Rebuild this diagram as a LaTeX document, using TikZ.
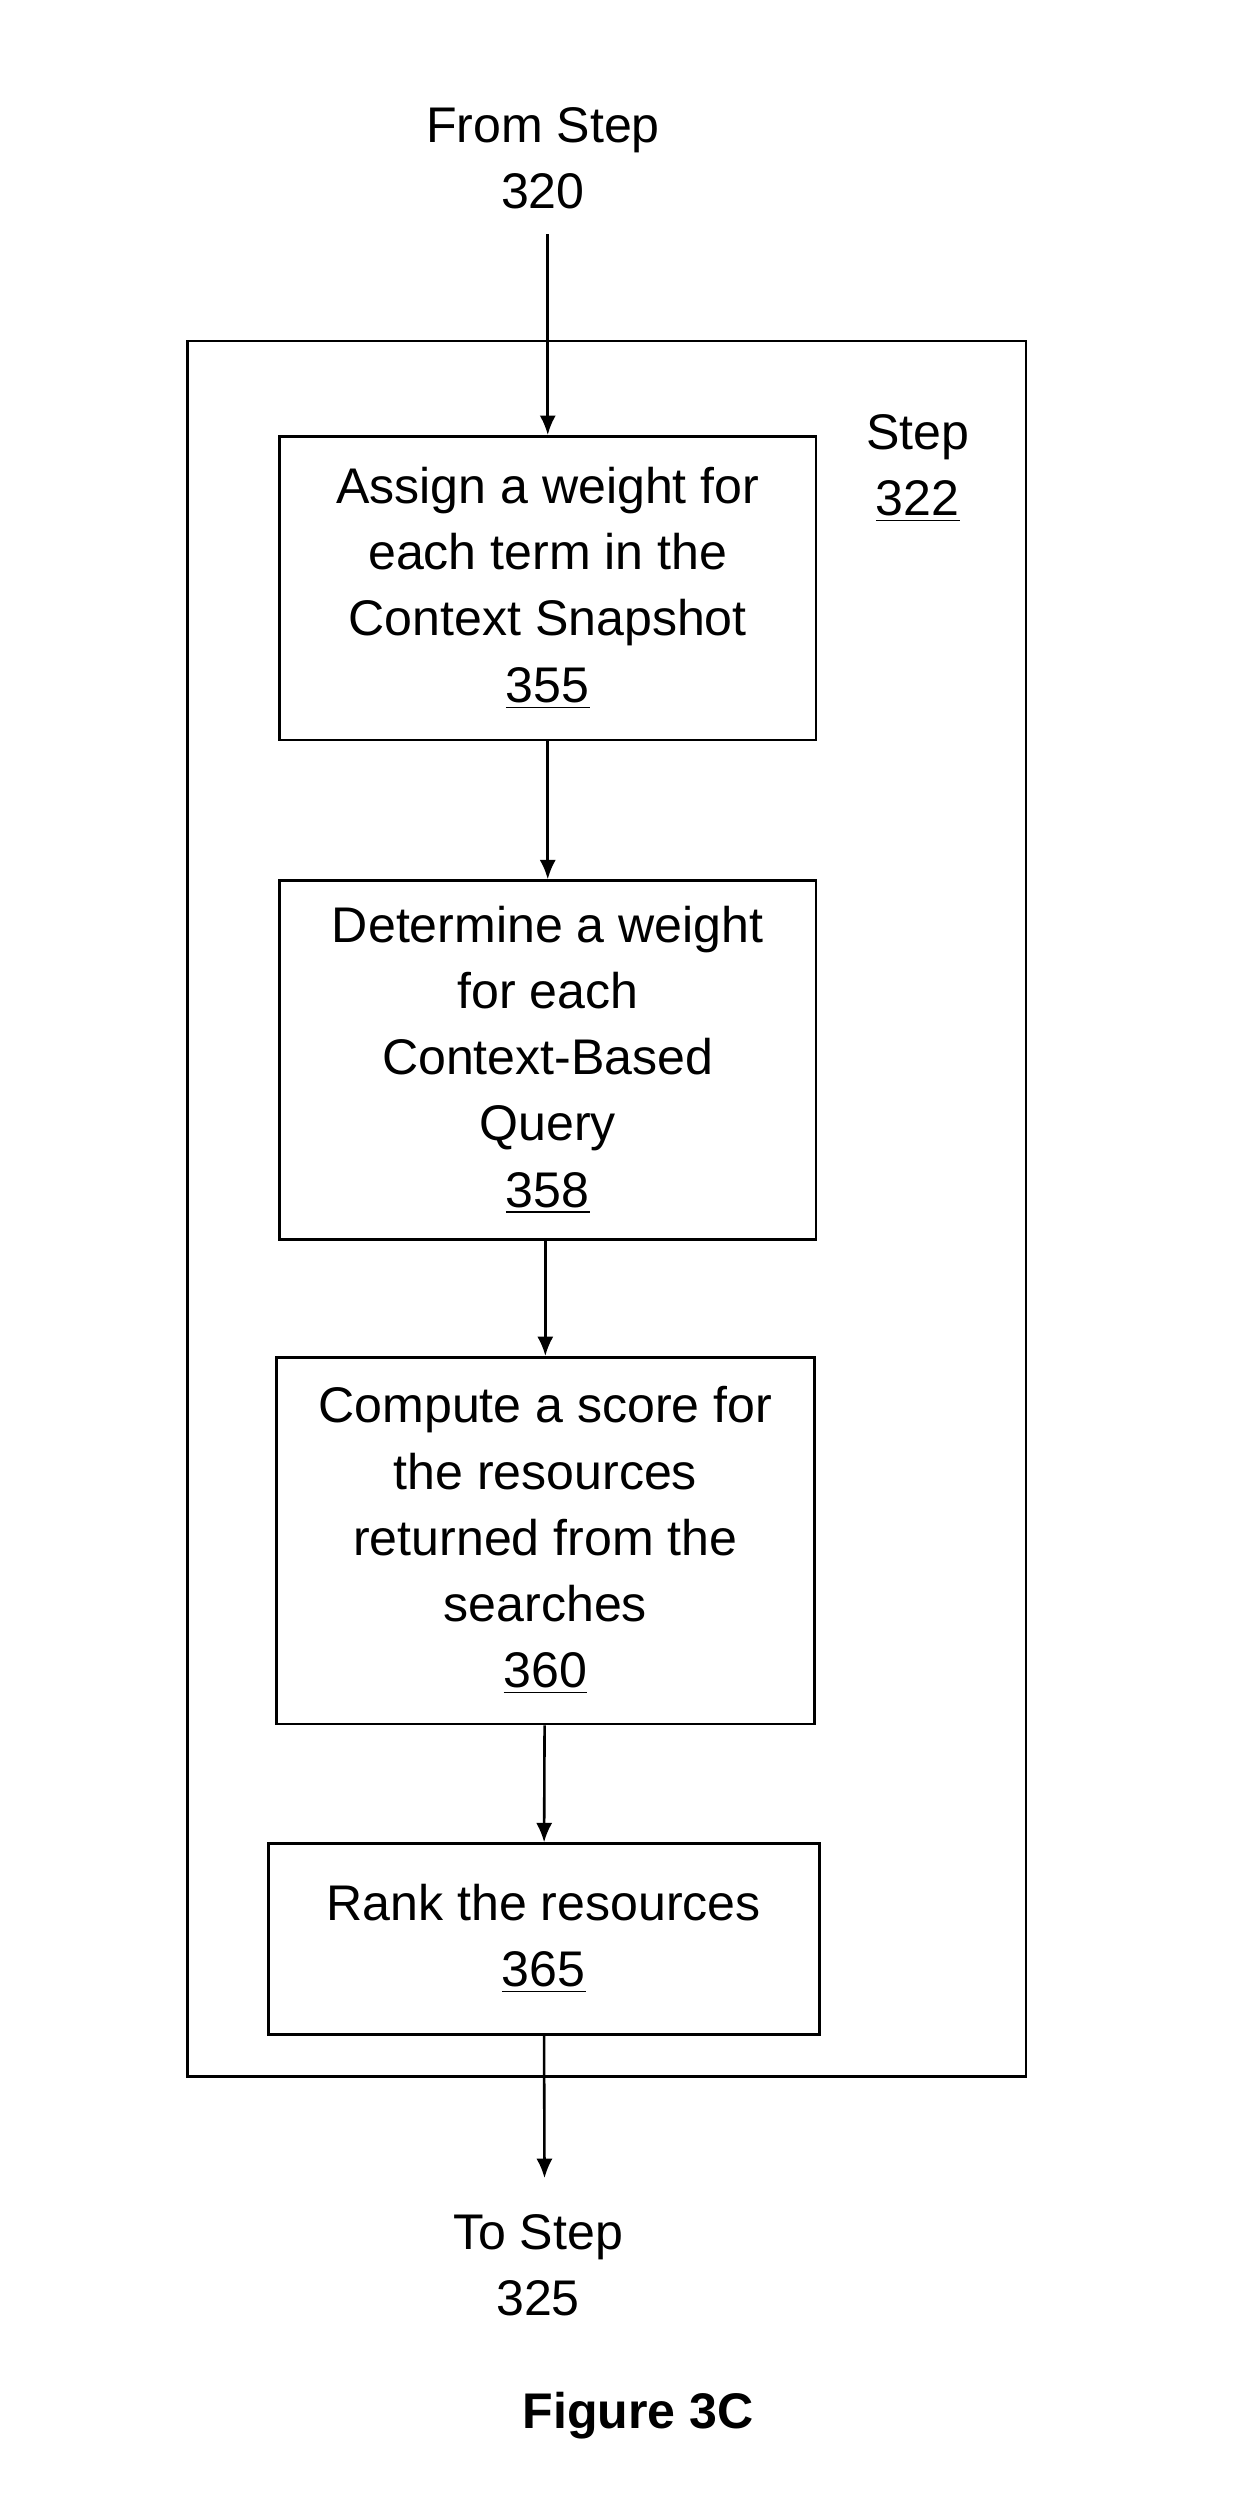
\documentclass[tikz,border=0pt]{standalone}
\usepackage{fontspec}
\setmainfont{Liberation Sans}
\usetikzlibrary{positioning,arrows.meta}
\tikzset{
  stepbox/.style={draw, line width=0.8pt, align=center, inner sep=0pt},
  flow/.style={-{Latex[length=6pt,width=5pt]}, line width=0.8pt},
  txt/.style={align=center, inner sep=0pt}
}
\begin{document}
\begin{tikzpicture}[x=0.5pt, y=-0.5pt,
  every node/.style={font=\fontsize{15.5pt}{20.5pt}\selectfont}]
  \useasboundingbox (0,0) rectangle (768,1546);
  % outer step box
  \draw[line width=0.8pt] (116,211) rectangle (635,1285);
  \node[txt] (from) at (336,98) {From Step\\320};
  \node[txt] (step) at (568,290) {Step\\\underline{322}};
  % steps
  \node[stepbox, minimum width=166pt, minimum height=94pt] (s355) at (339,364)
    {Assign a weight for\\each term in the\\Context Snapshot\\\underline{355}};
  \node[stepbox, minimum width=166pt, minimum height=111pt] (s358) at (339,656)
    {Determine a weight\\for each\\Context-Based\\Query\\\underline{358}};
  \node[stepbox, minimum width=166.5pt, minimum height=113.5pt] (s360) at (337.5,953.5)
    {Compute a score for\\the resources\\returned from the\\searches\\\underline{360}};
  \node[stepbox, minimum width=170.5pt, minimum height=59pt] (s365) at (336.5,1200)
    {Rank the resources\\\underline{365}};
  \node[txt] (to) at (333,1402) {To Step\\325};
  \node[txt, font=\fontsize{15.5pt}{20.5pt}\selectfont\bfseries] (fig) at (395,1495) {Figure 3C};
  % connectors
  \coordinate (top) at (339,145);
  \coordinate (bot) at (337,1348);
  \draw[flow] (top) -- (s355);
  \draw[flow] (s355) -- (s358);
  \draw[flow] (s358.south -| s360.north) -- (s360);
  \draw[flow] (s360) -- (s365);
  \draw[flow] (s365) -- (bot);
\end{tikzpicture}
\end{document}
